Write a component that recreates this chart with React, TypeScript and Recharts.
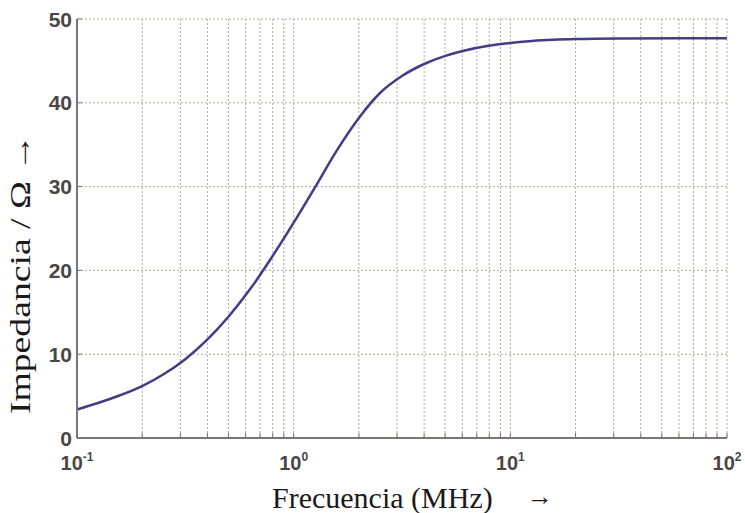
import { LineChart, Line, XAxis, YAxis, CartesianGrid } from "recharts";

// frequency in MHz (log-spaced reading points) and impedance in ohms
const freqMHz = [
  0.1, 0.126, 0.158, 0.2, 0.251, 0.316, 0.398, 0.501, 0.631, 0.794,
  1, 1.26, 1.58, 2, 2.51, 3.16, 3.98, 5.01, 6.31, 7.94,
  10, 12.6, 15.8, 20, 31.6, 100,
];
const impedance = [
  3.4, 4.2, 5.1, 6.2, 7.6, 9.4, 11.7, 14.5, 17.8, 21.6,
  25.7, 30.0, 34.3, 38.2, 41.2, 43.2, 44.6, 45.6, 46.3, 46.8,
  47.15, 47.37, 47.51, 47.6, 47.67, 47.7,
];

const xTicks = [
  0.1, 0.2, 0.3, 0.4, 0.5, 0.6, 0.7, 0.8, 0.9,
  1, 2, 3, 4, 5, 6, 7, 8, 9,
  10, 20, 30, 40, 50, 60, 70, 80, 90,
  100,
];
const decades = [0.1, 1, 10, 100];
const decadeExp = ["-1", "0", "1", "2"];
const yTicks = [0, 10, 20, 30, 40, 50];

const data = freqMHz.map((f, i) => ({ f, z: impedance[i] }));

const AXIS = "#7d7575";
const GRID = "#b5aa9e";
const TICK_COLOR = "#4a4646";
const TICK_FONT = "'Liberation Sans', Arial, sans-serif";
const LABEL_FONT = "'Liberation Serif', 'Times New Roman', serif";

const BottomTick = (props: any) => {
  const { x, y, payload } = props;
  const idx = decades.indexOf(payload.value);
  return (
    <g>
      <line x1={x} y1={y} x2={x} y2={y - 5} stroke={AXIS} strokeWidth={1} />
      {idx >= 0 && (
        <text x={x} y={y + 32} textAnchor="middle" fontFamily={TICK_FONT} fontWeight="bold" fontSize={20} fill={TICK_COLOR}>
          10
          <tspan dy={-9} fontSize={12}>{decadeExp[idx]}</tspan>
        </text>
      )}
    </g>
  );
};

const TopTick = (props: any) => {
  const { x, y } = props;
  return <line x1={x} y1={y} x2={x} y2={y + 5} stroke={AXIS} strokeWidth={1} />;
};

const LeftTick = (props: any) => {
  const { x, y, payload } = props;
  return (
    <g>
      <line x1={x} y1={y} x2={x + 5} y2={y} stroke={AXIS} strokeWidth={1} />
      <text x={x - 5} y={y} dy="0.36em" textAnchor="end" fontFamily={TICK_FONT} fontWeight="bold" fontSize={21} fill={TICK_COLOR}>
        {payload.value}
      </text>
    </g>
  );
};

const RightTick = (props: any) => {
  const { x, y } = props;
  return <line x1={x} y1={y} x2={x - 5} y2={y} stroke={AXIS} strokeWidth={1} />;
};

export default function App() {
  return (
    <div style={{ position: "absolute", left: 0, top: 0, width: 745, height: 513, background: "#fff" }}>
      <LineChart width={745} height={513} data={data} margin={{ top: 19, right: 18, bottom: 0, left: 0 }}>
        <CartesianGrid stroke={GRID} strokeDasharray="2 2" strokeWidth={1} />
        <XAxis
          dataKey="f"
          type="number"
          scale="log"
          domain={[0.1, 100]}
          ticks={xTicks}
          interval={0}
          allowDataOverflow
          height={75}
          tickSize={0}
          tickMargin={0}
          stroke={AXIS}
          strokeWidth={2}
          tick={<BottomTick />}
        />
        <XAxis
          xAxisId="top"
          orientation="top"
          dataKey="f"
          type="number"
          scale="log"
          domain={[0.1, 100]}
          ticks={xTicks}
          interval={0}
          allowDataOverflow
          height={0}
          tickSize={0}
          tickMargin={0}
          stroke={AXIS}
          strokeWidth={2}
          tick={<TopTick />}
        />
        <YAxis
          type="number"
          domain={[0, 50]}
          ticks={yTicks}
          interval={0}
          width={77}
          tickSize={0}
          tickMargin={0}
          stroke={AXIS}
          strokeWidth={2}
          tick={<LeftTick />}
        />
        <YAxis
          yAxisId="right"
          orientation="right"
          type="number"
          domain={[0, 50]}
          ticks={yTicks}
          interval={0}
          width={0}
          tickSize={0}
          tickMargin={0}
          stroke={AXIS}
          strokeWidth={2}
          tick={<RightTick />}
        />
        <Line
          type="monotoneX"
          dataKey="z"
          stroke="#433c86"
          strokeWidth={2.5}
          dot={false}
          isAnimationActive={false}
        />
        <text
          transform="translate(30,274) rotate(-90) scale(1.3,1)"
          textAnchor="middle"
          fontFamily={LABEL_FONT}
          fontSize={29}
          fill="#1a1a1a"
        >
          Impedancia / Ω →
        </text>
        <text x={272} y={508} fontFamily={LABEL_FONT} fontSize={30} fill="#1a1a1a">
          Frecuencia (MHz)
        </text>
        <text x={527} y={505} fontFamily={LABEL_FONT} fontSize={26} fill="#1a1a1a">
          →
        </text>
      </LineChart>
    </div>
  );
}
